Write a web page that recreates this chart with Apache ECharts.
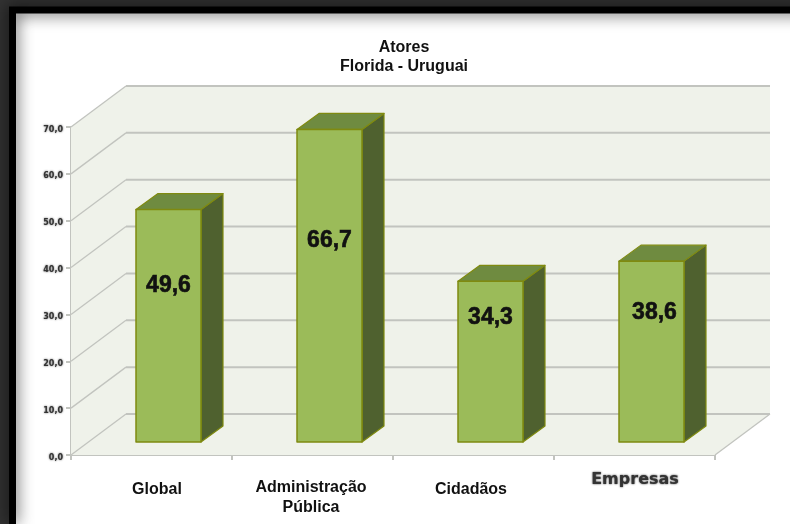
<!DOCTYPE html>
<html><head><meta charset="utf-8">
<script src="https://cdn.jsdelivr.net/npm/echarts@6/dist/echarts.min.js"></script>
<style>html,body{margin:0;padding:0;background:#fff}#c{width:790px;height:524px}</style>
</head><body><div id="c"></div>
<script>
const categories = ['Global', 'Administração\nPública', 'Cidadãos', 'Empresas'];
const values = [49.6, 66.7, 34.3, 38.6];
const ticks = [0, 10, 20, 30, 40, 50, 60, 70];
const titleText = 'Atores\nFlorida - Uruguai';

const BACK_DX = 55, BACK_DY = -41;
const BAR_SHIFT_X = 17, BAR_SHIFT_Y = -13, BAR_W = 65, DEPTH_X = 22, DEPTH_Y = -16;
const labelDrop = [76.5, 111, 36, 52];
const labelNudge = [0, 0, 0, 3];
const OLIVE = '#7f8a10', GRID = '#c2c4bf', WALL = '#eff2ea';

function poly(points, fill, stroke, lw) {
  return { type: 'polygon', shape: { points }, style: { fill, stroke: stroke || null, lineWidth: lw || 0, lineJoin: 'round' } };
}
function renderWall(params, api) {
  const cs = params.coordSys;
  const y = api.coord([0, api.value(1)])[1];
  const L = cs.x, R = cs.x + cs.width;
  const kids = [];
  if (params.dataIndex === 0) {
    kids.push(poly([[L, cs.y], [L + BACK_DX, cs.y + BACK_DY], [R + BACK_DX, cs.y + BACK_DY], [R + BACK_DX, y + BACK_DY], [R, y], [L, y]], WALL));
    kids.push({ type: 'line', shape: { x1: R, y1: y, x2: R + BACK_DX, y2: y + BACK_DY }, style: { stroke: GRID, lineWidth: 1.3 } });
  }
  kids.push({ type: 'line', shape: { x1: L, y1: y, x2: L + BACK_DX, y2: y + BACK_DY }, style: { stroke: GRID, lineWidth: 1.3 } });
  kids.push({ type: 'line', shape: { x1: L + BACK_DX, y1: y + BACK_DY, x2: R + BACK_DX, y2: y + BACK_DY }, style: { stroke: GRID, lineWidth: 2 } });
  return { type: 'group', children: kids };
}
function renderBar(params, api) {
  const i = api.value(0), v = api.value(1);
  const top = api.coord([i, v]), base = api.coord([i, 0]);
  const x0 = top[0] + BAR_SHIFT_X - BAR_W / 2, x1 = x0 + BAR_W;
  const yt = top[1] + BAR_SHIFT_Y, yb = base[1] + BAR_SHIFT_Y;
  return { type: 'group', children: [
    poly([[x1, yt], [x1 + DEPTH_X, yt + DEPTH_Y], [x1 + DEPTH_X, yb + DEPTH_Y], [x1, yb]], '#4f612f', OLIVE, 1.2),
    poly([[x0, yt], [x0 + DEPTH_X, yt + DEPTH_Y], [x1 + DEPTH_X, yt + DEPTH_Y], [x1, yt]], '#6f8b40', OLIVE, 1.2),
    poly([[x0, yt], [x1, yt], [x1, yb], [x0, yb]], '#9bbb59', OLIVE, 1.5),
    { type: 'text', style: { x: (x0 + x1) / 2 + labelNudge[i], y: yt + labelDrop[i], text: v.toFixed(1).replace('.', ','),
        font: 'bold 23px "Liberation Sans"', fill: '#111', stroke: '#111', lineWidth: 0.6, align: 'center', verticalAlign: 'middle', shadowBlur: 1.5, shadowColor: '#111' } }
  ] };
}
function frameRect(x, y, w, h, fill) { return { type: 'rect', z: -10, shape: { x, y, width: w, height: h }, style: { fill } }; }

const LS = '"Liberation Sans"';
const chart = echarts.init(document.getElementById('c'), null, { renderer: 'canvas' });
chart.setOption({
  animation: false,
  backgroundColor: '#fff',
  title: { text: titleText, left: 399, textAlign: 'center', top: 33,
    textStyle: { fontFamily: LS, fontWeight: 'bold', fontSize: 16, lineHeight: 19, color: '#111' } },
  grid: { left: 71, top: 127, width: 644, height: 328, containLabel: false },
  xAxis: { type: 'category', data: categories,
    axisLine: { lineStyle: { color: GRID, width: 2 } },
    axisTick: { show: true, alignWithLabel: false, length: 5, lineStyle: { color: GRID, width: 2 } },
    axisLabel: { interval: 0, margin: 17, color: '#111',
      formatter: function (name) {
        if (name === 'Global') return '{g|' + name + '}';
        if (name === 'Empresas') return '{e|' + name + '}';
        if (name === 'Cidadãos') return '{c|' + name + '}';
        const p = name.split('\n');
        return '{a|' + p[0] + '}\n{b|' + p[1] + '}';
      },
      rich: {
        g: { fontFamily: LS, fontWeight: 'bold', fontSize: 16, padding: [10, 0, 0, 11], color: '#111' },
        c: { fontFamily: LS, fontWeight: 'bold', fontSize: 16, padding: [10, 5, 0, 0], color: '#111' },
        a: { fontFamily: LS, fontWeight: 'bold', fontSize: 16, padding: [13, 3, 0, 0], lineHeight: 19, color: '#111' },
        b: { fontFamily: LS, fontWeight: 'bold', fontSize: 16, padding: [5, 3, 0, 0], lineHeight: 29, color: '#111' },
        e: { fontFamily: '"DejaVu Sans"', fontWeight: 'bold', fontSize: 16, padding: [0, 0, 0, 1], color: '#333', textShadowBlur: 2, textShadowColor: '#333' }
      } },
    splitLine: { show: false } },
  yAxis: { type: 'value', min: 0, max: 70, interval: 10,
    axisLine: { show: true, lineStyle: { color: GRID, width: 2 } },
    axisTick: { show: true, length: 5, lineStyle: { color: GRID, width: 2 } },
    splitLine: { show: false },
    axisLabel: { margin: 8,
      formatter: v => '{v|' + v.toFixed(1).replace('.', ',') + '}',
      rich: { v: { color: '#333', fontFamily: '"DejaVu Sans"', fontWeight: 'bold', fontSize: 8, lineHeight: 8, padding: [5, 0, 0, 0],
        textShadowBlur: 2, textShadowColor: '#555' } } } },
  graphic: { elements: [
    { type: 'polyline', z: -9, shape: { points: [[12.5, 524], [12.5, 10], [810, 10]] },
      style: { fill: null, stroke: '#000', lineWidth: 7, shadowBlur: 16, shadowColor: 'rgba(0,0,0,0.85)' } },
    frameRect(0, 0, 790, 7, '#323232'),
    frameRect(0, 0, 9, 524, '#323232'),
    frameRect(305, 26, 197, 58, '#fff')
  ] },
  series: [
    { type: 'custom', name: 'wall', z: 1, silent: true, clip: false, renderItem: renderWall,
      encode: { x: 0, y: 1 }, data: ticks.map(t => [0, t]) },
    { type: 'custom', name: 'Atores', z: 3, clip: false, renderItem: renderBar,
      encode: { x: 0, y: 1 }, data: values.map((v, i) => [i, v]) }
  ]
});
</script></body></html>
